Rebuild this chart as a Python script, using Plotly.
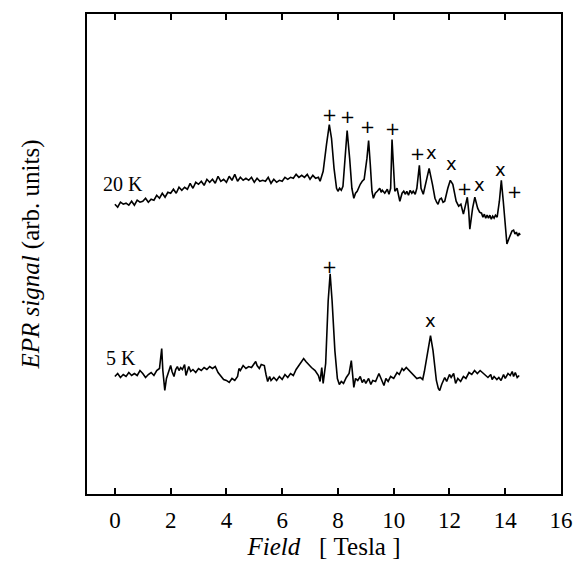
import plotly.graph_objects as go

# ---- 20 K trace (Field in Tesla, EPR signal in arb. units) ----
field_20K = [0.0, 0.1, 0.2, 0.3, 0.4, 0.5, 0.6, 0.7, 0.8, 0.9, 1.0, 1.1, 1.2, 1.3, 1.4, 1.5, 1.6, 1.7,
             1.8, 1.9, 2.0, 2.1, 2.2, 2.3, 2.4, 2.5, 2.6, 2.7, 2.8, 2.9, 3.0, 3.1, 3.2, 3.3, 3.4, 3.5,
             3.6, 3.7, 3.8, 3.9, 4.0, 4.1, 4.2, 4.3, 4.4, 4.5, 4.6, 4.7, 4.8, 4.9, 5.0, 5.1, 5.2, 5.3,
             5.4, 5.5, 5.6, 5.7, 5.8, 5.9, 6.0, 6.1, 6.2, 6.3, 6.4, 6.5, 6.6, 6.7, 6.8, 6.9, 7.0, 7.1,
             7.2, 7.3, 7.36, 7.47, 7.59, 7.69, 7.77, 7.86, 7.95, 8.0, 8.06, 8.12, 8.18, 8.26, 8.33, 8.42,
             8.50, 8.57, 8.63, 8.69, 8.75, 8.80, 8.87, 8.94, 9.04, 9.10, 9.16, 9.22, 9.27, 9.34, 9.41,
             9.50, 9.55, 9.59, 9.68, 9.77, 9.83, 9.89, 9.94, 9.99, 10.04, 10.12, 10.22, 10.30, 10.36,
             10.42, 10.47, 10.53, 10.59, 10.65, 10.70, 10.77, 10.83, 10.92, 10.98, 11.06, 11.16, 11.27,
             11.39, 11.48, 11.54, 11.59, 11.65, 11.71, 11.77, 11.83, 11.94, 12.03, 12.12, 12.24, 12.33,
             12.41, 12.50, 12.57, 12.64, 12.69, 12.73, 12.83, 12.91, 13.01, 13.08, 13.15, 13.2, 13.25,
             13.3, 13.35, 13.4, 13.45, 13.5, 13.55, 13.6, 13.65, 13.71, 13.79, 13.86, 13.93, 14.00,
             14.06, 14.14, 14.2, 14.24, 14.3, 14.35, 14.4, 14.45, 14.5, 14.53]
signal_20K = [291, 288, 293, 291, 292, 290, 294, 290, 295, 293, 294, 297, 293, 296, 295, 300, 297, 302,
              298, 303, 302, 306, 302, 308, 305, 308, 306, 312, 307, 313, 311, 314, 310, 316, 313, 316,
              312, 319, 314, 316, 313, 319, 315, 321, 314, 318, 315, 317, 315, 318, 313, 317, 314, 315,
              314, 318, 312, 316, 313, 315, 314, 318, 316, 318, 317, 321, 318, 320, 318, 321, 316, 320,
              317, 318, 314, 324, 351, 371, 357, 327, 307, 304, 307, 305, 309, 337, 365, 337,
              307, 297, 302, 304, 309, 311, 314, 316, 337, 355, 331, 304, 297, 302, 304,
              307, 303, 305, 302, 306, 301, 307, 356, 321, 304, 307, 294, 302, 304,
              301, 304, 300, 305, 302, 304, 301, 307, 330, 307, 301, 314, 327,
              311, 297, 293, 291, 296, 297, 293, 294, 307, 315, 311, 294, 289,
              291, 281, 291, 298, 284, 266, 287, 298, 287, 283, 282, 278, 281,
              277, 280, 277, 280, 276, 279, 277, 280, 278, 294, 315, 294, 271,
              251, 257, 262, 264, 265, 261, 263, 259, 262, 260]

# ---- 5 K trace ----
field_5K = [0.0, 0.1, 0.2, 0.3, 0.4, 0.5, 0.6, 0.7, 0.8, 0.9, 1.0, 1.1, 1.2, 1.3, 1.4, 1.5, 1.6, 1.68,
            1.72, 1.79, 1.85, 1.9, 1.95, 2.0, 2.05, 2.12, 2.18, 2.24, 2.3, 2.36, 2.42, 2.5, 2.55, 2.6,
            2.65, 2.72, 2.8, 2.9, 3.0, 3.1, 3.2, 3.3, 3.4, 3.5, 3.6, 3.7, 3.8, 3.9, 4.0, 4.1, 4.2, 4.3,
            4.4, 4.45, 4.5, 4.6, 4.7, 4.8, 4.9, 5.0, 5.05, 5.1, 5.18, 5.25, 5.36, 5.42, 5.48, 5.55, 5.6,
            5.7, 5.8, 5.9, 6.0, 6.1, 6.2, 6.3, 6.4, 6.5, 6.6, 6.7, 6.77, 6.85, 6.94, 7.05, 7.18, 7.3,
            7.36, 7.42, 7.47, 7.56, 7.65, 7.72, 7.79, 7.89, 7.98, 8.05, 8.12, 8.2, 8.3, 8.4, 8.48, 8.52,
            8.57, 8.63, 8.71, 8.8, 8.87, 8.94, 9.0, 9.1, 9.18, 9.25, 9.35, 9.47, 9.55, 9.65, 9.72, 9.8,
            9.89, 10.0, 10.12, 10.2, 10.3, 10.36, 10.45, 10.59, 10.7, 10.83, 10.95, 11.04, 11.1, 11.18,
            11.25, 11.32, 11.41, 11.47, 11.53, 11.6, 11.65, 11.72, 11.83, 11.9, 12.0, 12.06, 12.15,
            12.22, 12.3, 12.4, 12.5, 12.59, 12.7, 12.8, 12.9, 13.0, 13.1, 13.18, 13.28, 13.38, 13.48,
            13.53, 13.6, 13.7, 13.77, 13.85, 13.94, 14.0, 14.1, 14.18, 14.25, 14.3, 14.36, 14.43, 14.5]
signal_5K = [118, 121, 117, 120, 118, 122, 119, 121, 119, 124, 121, 117, 120, 122, 119, 124, 126, 146,
             124, 104, 116, 121, 126, 129, 123, 118, 125, 128, 124, 127, 125, 130, 119, 124,
             128, 123, 125, 122, 126, 124, 127, 125, 128, 126, 128, 122, 119, 115, 114, 112, 116, 114,
             118, 126, 124, 129, 126, 128, 127, 131, 133, 129, 126, 130, 129, 120, 113, 118, 114,
             117, 114, 118, 115, 120, 117, 121, 119, 125, 129, 133, 136, 133, 130, 127, 124, 119,
             113, 127, 111, 131, 194, 221, 194, 144, 116, 110, 113, 111, 117, 121, 134, 120,
             107, 116, 114, 118, 112, 115, 111, 116, 110, 114, 113, 121, 115, 109, 116, 113,
             118, 116, 122, 120, 126, 124, 127, 123, 120, 116, 117, 115, 123, 137,
             150, 159, 144, 128, 114, 106, 104, 110, 117, 113, 120, 117, 121,
             111, 116, 113, 118, 116, 122, 120, 124, 121, 124, 122, 119, 117, 120,
             115, 118, 115, 117, 114, 120, 116, 121, 119, 123, 118, 122, 117, 119]

# ---- peak assignment symbols ----
mark_20K_field = [7.69, 8.36, 9.06, 9.97, 10.86, 11.36, 12.06, 12.53, 13.06, 13.83, 14.35]
mark_20K_level = [381, 379, 369, 367, 342, 343, 332, 307, 311, 326, 304]
mark_20K_sym = ["+", "+", "+", "+", "+", "x", "x", "+", "x", "x", "+"]
mark_5K_field = [7.69, 11.32]
mark_5K_level = [228, 174]
mark_5K_sym = ["+", "x"]

trace_labels = ["20 K", "5 K"]
label_field = [0.30, 0.23]
label_level = [311, 137]

x_ticks = [0, 2, 4, 6, 8, 10, 12, 14, 16]

SERIF = "Liberation Serif"
NB = "\u00a0"

fig = go.Figure()
fig.add_trace(go.Scatter(x=field_20K, y=signal_20K, mode="lines",
                         line=dict(color="black", width=1.6), showlegend=False))
fig.add_trace(go.Scatter(x=field_5K, y=signal_5K, mode="lines",
                         line=dict(color="black", width=1.6), showlegend=False))

annotations = []
for fx, lv, s in zip(mark_20K_field + mark_5K_field, mark_20K_level + mark_5K_level,
                     mark_20K_sym + mark_5K_sym):
    annotations.append(dict(x=fx, y=lv, xref="x", yref="y", text=s, showarrow=False,
                            font=dict(family="DejaVu Sans", size=18, color="black"),
                            xanchor="center", yanchor="middle"))
for t, fx, lv in zip(trace_labels, label_field, label_level):
    annotations.append(dict(x=fx, y=lv, xref="x", yref="y", text=t, showarrow=False,
                            font=dict(family=SERIF, size=20, color="black"),
                            xanchor="center", yanchor="middle"))

fig.update_layout(
    width=585, height=574,
    margin=dict(l=87, r=15, t=12, b=80),
    paper_bgcolor="white", plot_bgcolor="white",
    annotations=annotations,
    font=dict(family=SERIF, color="black"),
    xaxis=dict(range=[-1, 16], tickvals=x_ticks, ticktext=[str(v) for v in x_ticks],
               ticks="inside", ticklen=6, tickwidth=1.5, tickcolor="black",
               showline=True, linecolor="black", linewidth=1.5, mirror="ticks",
               showgrid=False, zeroline=False, ticklabelstandoff=5,
               tickfont=dict(family=SERIF, size=23, color="black"),
               title=dict(text="<i>Field</i>" + NB * 3 + "[" + NB + "Tesla" + NB + "]",
                          font=dict(family=SERIF, size=25, color="black"),
                          standoff=5)),
    yaxis=dict(range=[0, 482], showticklabels=False, ticks="",
               showline=True, linecolor="black", linewidth=1.5, mirror=True,
               showgrid=False, zeroline=False,
               title=dict(text="<i>EPR signal</i> (arb. units)", font=dict(family=SERIF, size=25, color="black"),
                          standoff=39)),
)

fig.write_html("out.html")
